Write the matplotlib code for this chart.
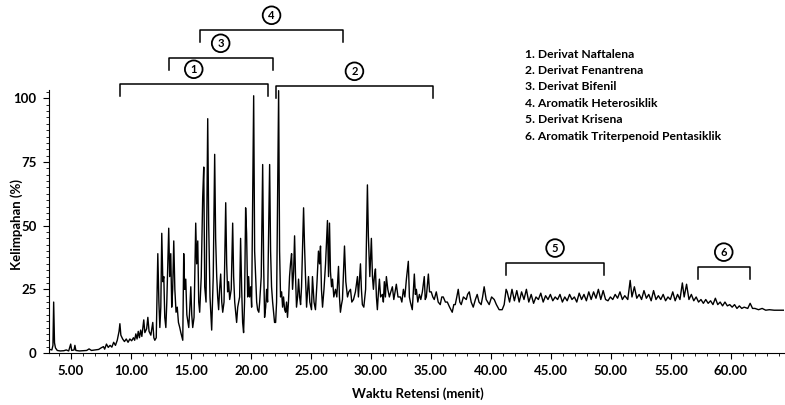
import matplotlib
matplotlib.use("Agg")
import matplotlib.pyplot as plt
from matplotlib.ticker import MultipleLocator, FormatStrFormatter

# retention time (min) and relative abundance (%)
rt_early = [3.16, 3.40, 3.49, 3.55, 3.62, 3.70, 3.85, 4.10, 4.40, 4.60, 4.80, 4.97, 5.05,
            5.25, 5.32, 5.40, 5.70, 6.00, 6.30, 6.50, 6.70, 7.00, 7.30, 7.50, 7.70, 7.80,
            7.95, 8.10, 8.25, 8.40, 8.55, 8.70, 8.85, 9.00, 9.07, 9.15, 9.30, 9.45, 9.60,
            9.75, 9.90, 10.05, 10.20, 10.30, 10.40, 10.50, 10.60, 10.70, 10.80, 10.90,
            11.06, 11.15, 11.30, 11.40, 11.50, 11.65, 11.81, 11.90, 11.98, 12.10]
ab_early = [1.5, 1.2, 3.0, 20.0, 4.0, 2.0, 1.0, 0.8, 0.9, 1.2, 0.8, 3.5, 1.0,
            1.2, 3.0, 1.0, 0.8, 0.9, 1.0, 1.6, 1.0, 1.2, 1.4, 2.0, 2.5, 1.5,
            3.5, 2.2, 3.0, 2.3, 4.2, 3.0, 5.0, 8.5, 11.5, 7.0, 5.5, 4.5, 5.5,
            4.2, 5.5, 4.8, 6.0, 5.0, 7.5, 5.5, 8.5, 6.0, 9.0, 6.5,
            13.0, 8.0, 9.5, 14.0, 8.5, 7.0, 12.0, 6.0, 5.0, 6.0]

rt_main = [12.23, 12.32, 12.40, 12.48, 12.56, 12.65, 12.73, 12.81, 12.90, 12.98, 13.14,
           13.22, 13.31, 13.39, 13.47, 13.56, 13.65, 13.75, 13.85, 13.95, 14.06, 14.15,
           14.31, 14.39, 14.47, 14.56, 14.65, 14.81, 14.90, 14.98, 15.06, 15.14, 15.25,
           15.39, 15.47, 15.56, 15.64, 15.72, 15.85, 15.97, 16.06, 16.14, 16.25, 16.39,
           16.47, 16.58, 16.72, 16.85, 16.97, 17.05, 17.14, 17.22, 17.30, 17.38, 17.47,
           17.56, 17.64, 17.75, 17.89, 17.97, 18.05, 18.13, 18.22, 18.35, 18.47, 18.55,
           18.64, 18.72, 18.80, 18.89, 19.05, 19.13, 19.22, 19.30, 19.38, 19.46, 19.55,
           19.63, 19.72, 19.80, 19.88, 19.97, 20.05, 20.22, 20.30, 20.38, 20.47, 20.55,
           20.65, 20.72, 20.85, 20.97, 21.05, 21.13, 21.22, 21.30, 21.38, 21.55, 21.63,
           21.71, 21.80, 21.90, 21.96, 22.05, 22.13, 22.30, 22.38, 22.46, 22.55, 22.63,
           22.71, 22.80, 22.88, 22.96, 23.04, 23.12, 23.21, 23.29, 23.38, 23.46, 23.55,
           23.63, 23.71, 23.79, 23.88, 23.96, 24.05, 24.13, 24.21, 24.38, 24.46, 24.54,
           24.63, 24.71, 24.79, 24.90, 25.04, 25.12, 25.25, 25.37, 25.50, 25.62, 25.71,
           25.79, 25.87, 25.96, 26.08, 26.21, 26.37, 26.46, 26.54, 26.62, 26.71, 26.79,
           26.90, 27.04, 27.15, 27.29, 27.37, 27.45, 27.54, 27.62, 27.79, 27.90, 28.04,
           28.15, 28.29, 28.40, 28.54, 28.70, 28.87, 28.95, 29.12, 29.20, 29.28, 29.40,
           29.55, 29.70, 29.78, 29.90, 30.03, 30.12, 30.20, 30.28, 30.37, 30.45, 30.53,
           30.62, 30.70, 30.80, 30.95, 31.03, 31.11, 31.20, 31.28, 31.40, 31.53, 31.65,
           31.78, 31.90, 32.11, 32.25, 32.45, 32.57, 32.70, 32.82, 32.95, 33.11, 33.20,
           33.28, 33.44, 33.61, 33.70, 33.78, 33.90, 34.03, 34.15, 34.28, 34.44, 34.52,
           34.61, 34.78, 34.88, 35.02, 35.15, 35.27]
ab_main = [39.0, 20.0, 10.0, 18.0, 47.0, 28.0, 30.0, 14.0, 10.0, 20.0, 49.0,
           30.0, 39.0, 18.0, 25.0, 44.0, 25.0, 16.0, 18.0, 12.0, 10.0, 8.0,
           5.0, 39.0, 25.0, 29.0, 15.0, 10.0, 18.0, 26.0, 15.0, 10.0, 14.0,
           51.0, 35.0, 44.0, 20.0, 16.0, 30.0, 61.0, 73.0, 26.0, 20.0, 92.0,
           51.0, 22.0, 9.0, 30.0, 78.0, 45.0, 30.0, 22.0, 17.0, 25.0, 31.0,
           20.0, 16.0, 20.0, 59.0, 35.0, 24.0, 28.0, 21.0, 25.0, 51.0, 30.0,
           20.0, 16.0, 12.0, 18.0, 22.0, 45.0, 25.0, 12.0, 8.0, 20.0, 57.0,
           47.0, 22.0, 30.0, 22.0, 26.0, 18.0, 101.0, 40.0, 31.0, 20.0, 17.0,
           16.0, 20.0, 30.0, 74.0, 35.0, 14.0, 18.0, 25.0, 20.0, 74.0, 40.0,
           26.0, 20.0, 15.0, 12.0, 12.0, 20.0, 103.0, 40.0, 22.0, 24.0, 18.0,
           22.0, 17.0, 16.0, 20.0, 14.0, 20.0, 30.0, 35.0, 39.0, 25.0, 32.0,
           46.0, 30.0, 18.0, 22.0, 29.0, 22.0, 19.0, 26.0, 57.0, 42.0, 30.0,
           18.0, 24.0, 30.0, 20.0, 17.0, 30.0, 20.0, 17.0, 28.0, 40.0, 35.0,
           42.0, 25.0, 18.0, 25.0, 35.0, 52.0, 30.0, 51.0, 32.0, 26.0, 29.0,
           22.0, 25.0, 22.0, 34.0, 22.0, 16.0, 19.0, 21.0, 42.0, 28.0, 22.0,
           24.0, 25.0, 20.0, 21.0, 24.0, 30.0, 22.0, 35.0, 25.0, 19.0, 18.0,
           25.0, 66.0, 46.0, 30.0, 45.0, 30.0, 25.0, 30.0, 33.0, 22.0, 17.0,
           24.0, 29.0, 22.0, 23.0, 20.0, 28.0, 22.0, 30.0, 25.0, 22.0, 24.0,
           26.0, 21.0, 27.0, 22.0, 22.0, 20.0, 25.0, 22.0, 29.0, 36.0, 22.0,
           20.0, 17.0, 31.0, 23.0, 25.0, 20.0, 23.0, 21.0, 24.0, 30.0, 21.0,
           22.0, 31.0, 24.0, 24.0, 22.0, 21.0]

rt_late = [35.44, 35.60, 35.77, 35.90, 36.02, 36.20, 36.36, 36.55, 36.77, 36.90, 37.02,
           37.15, 37.27, 37.40, 37.52, 37.70, 37.94, 38.05, 38.19, 38.35, 38.52, 38.70,
           38.85, 39.00, 39.18, 39.30, 39.43, 39.60, 39.85, 40.05, 40.27, 40.45, 40.68,
           40.93, 41.10, 41.26, 41.35, 41.55, 41.75, 41.95, 42.15, 42.35, 42.55, 42.75,
           42.95, 43.15, 43.35, 43.55, 43.75, 43.95, 44.15, 44.35, 44.55, 44.75, 44.95,
           45.15, 45.35, 45.55, 45.75, 45.95, 46.15, 46.35, 46.55, 46.75, 46.95, 47.15,
           47.35, 47.55, 47.75, 47.95, 48.15, 48.35, 48.55, 48.75, 48.95, 49.15, 49.35,
           49.55, 49.75, 49.95, 50.15, 50.35, 50.55, 50.75, 50.95, 51.15, 51.40, 51.60,
           51.75, 51.95, 52.15, 52.35, 52.55, 52.75, 52.95, 53.15, 53.35, 53.55, 53.75,
           53.95, 54.15, 54.35, 54.55, 54.75, 54.95, 55.15, 55.35, 55.55, 55.75, 55.95,
           56.10, 56.30, 56.50, 56.70, 56.90, 57.10, 57.30, 57.50, 57.70, 57.90, 58.10,
           58.30, 58.50, 58.70, 58.90, 59.10, 59.30, 59.50, 59.70, 59.90, 60.10, 60.30,
           60.50, 60.70, 60.90, 61.10, 61.40, 61.60, 61.80, 62.00, 62.30, 62.60, 62.90,
           63.20, 63.60, 64.00, 64.40]
ab_late = [24.0, 20.0, 19.0, 22.0, 22.0, 20.0, 20.0, 18.0, 16.0, 19.0, 19.0,
           22.0, 25.0, 20.0, 19.0, 22.0, 21.0, 23.0, 24.0, 20.0, 18.0, 21.0,
           23.0, 20.0, 19.0, 22.0, 26.0, 21.0, 19.0, 22.0, 21.0, 19.0, 17.0,
           17.0, 19.0, 25.0, 24.0, 20.0, 25.0, 20.5, 24.5, 20.0, 24.0, 21.0,
           25.0, 20.0, 23.0, 19.5, 22.0, 21.0, 23.5, 20.0, 22.5, 21.0, 23.0,
           20.5, 22.0, 21.0, 23.0, 20.0, 22.0, 20.5, 23.0, 21.0, 22.0, 20.0,
           23.5, 21.0, 23.0, 20.5, 24.0, 21.0, 24.0, 21.5, 25.0, 21.0, 24.5,
           21.0, 20.5, 22.0, 21.0, 23.0, 21.5, 24.0, 21.0, 22.5, 21.0, 28.5,
           22.0, 26.0, 21.5, 23.0, 21.0, 24.5, 21.5, 23.0, 20.5, 24.5, 21.0,
           22.5, 21.0, 23.0, 20.5, 22.0, 21.0, 24.0, 20.5, 23.0, 21.0, 27.5,
           22.0, 27.0, 21.0, 23.0, 20.5, 22.0, 20.0, 21.0, 19.5, 21.0, 19.5,
           20.5, 19.0, 21.5, 19.0, 20.0, 18.5, 20.0, 18.5, 19.0, 18.0, 19.0,
           17.5, 18.5, 17.5, 18.0, 17.5, 19.5, 17.5, 17.5, 17.0, 17.5, 16.8,
           17.0, 16.8, 16.8, 16.8]

# compound groups: label, start, end (min)
group_labels = ["1", "3", "4", "2", "5", "6"]
group_start = [9.07, 13.14, 15.72, 22.05, 41.26, 57.24]
group_end = [21.38, 21.80, 27.70, 35.19, 49.42, 61.56]
group_level = [105.5, 115.7, 126.7, 104.7, 35.3, 33.7]

legend_lines = ["1. Derivat Naftalena", "2. Derivat Fenantrena", "3. Derivat Bifenil",
                "4. Aromatik Heterosiklik", "5. Derivat Krisena",
                "6. Aromatik Triterpenoid Pentasiklik"]

rt = rt_early + rt_main + rt_late
ab = ab_early + ab_main + ab_late

font = ["Lato", "DejaVu Sans"]

fig = plt.figure(figsize=(7.85, 4.05), dpi=100)
ax = fig.add_axes([0.0624, 0.1284, 0.936, 0.649])
ax.plot(rt, ab, color="black", lw=1.0)
ax.set_xlim(3.16, 64.4)
ax.set_ylim(0, 103.2)

for s in ["top", "right"]:
    ax.spines[s].set_visible(False)
ax.xaxis.set_major_locator(MultipleLocator(5))
ax.xaxis.set_minor_locator(MultipleLocator(1))
ax.xaxis.set_major_formatter(FormatStrFormatter("%.2f"))
ax.yaxis.set_major_locator(MultipleLocator(25))
ax.yaxis.set_minor_locator(MultipleLocator(2.5))
ax.tick_params(which="major", direction="out", length=4, width=0.8, pad=5)
ax.tick_params(which="minor", direction="out", length=2, width=0.6)
ax.set_xticks([5, 10, 15, 20, 25, 30, 35, 40, 45, 50, 55, 60])
for lab in ax.get_xticklabels() + ax.get_yticklabels():
    lab.set_family(font)
    lab.set_fontweight("bold")
    lab.set_fontsize(9.5)

ax.set_xlabel("Waktu Retensi (menit)", family=font, fontweight="bold", fontsize=9.5)
ax.set_ylabel("Kelimpahan (%)", family=font, fontweight="bold", fontsize=9.5)
ax.xaxis.set_label_coords(0.502, -0.132)
ax.yaxis.set_label_coords(-0.036, 0.487)

# brackets marking compound groups
for lab, x0, x1, yl in zip(group_labels, group_start, group_end, group_level):
    drop = 4.5
    ax.plot([x0, x0, x1, x1], [yl - drop, yl, yl, yl - drop], color="black",
            lw=1.1, clip_on=False)
    ax.text((x0 + x1) / 2, yl + 5.9, lab, ha="center", va="center", fontsize=8,
            fontweight="bold", family=font,
            bbox=dict(boxstyle="circle,pad=0.3", fc="white", ec="black", lw=1.3),
            clip_on=False)

for i, line in enumerate(legend_lines):
    fig.text(0.669, 1 - (54 + i * 16.4) / 405, line, ha="left", va="center",
             fontsize=8.7, fontweight="bold", family=font)

fig.savefig("out.png", dpi=100)
